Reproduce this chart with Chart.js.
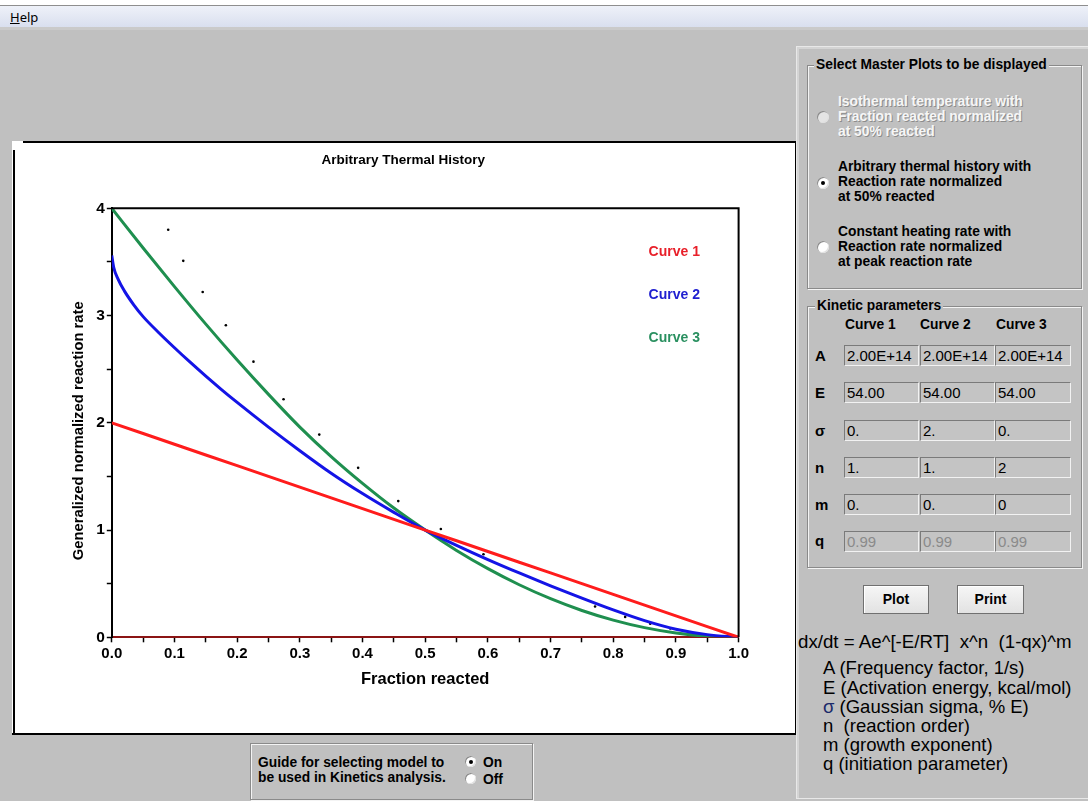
<!DOCTYPE html>
<html><head><meta charset="utf-8">
<script src="https://cdn.jsdelivr.net/npm/chart.js@4.4.1/dist/chart.umd.min.js"></script>
<style>
html,body{margin:0;padding:0;}
body{width:1088px;height:801px;background:#c0c0c0;position:relative;overflow:hidden;font-family:"Liberation Sans",Arial,sans-serif;color:#000;}
.a{position:absolute;}
.t{position:absolute;white-space:pre;font-weight:bold;font-size:13.8px;line-height:15px;}
.grp{position:absolute;border:1px solid #8a8a8a;box-shadow:inset 1px 1px 0 #f4f4f4,1px 1px 0 #f4f4f4;}
.leg{position:absolute;background:#c0c0c0;padding:0 2px;font-weight:bold;font-size:13.8px;line-height:16px;white-space:pre;}
.radio{position:absolute;width:12px;height:12px;border-radius:50%;background:#fff;box-shadow:inset 1px 1px 0 #8a8a8a,inset -1px -1px 0 #e0e0e0;}
.radio.on::after{content:'';position:absolute;left:4px;top:4px;width:4px;height:4px;border-radius:50%;background:#000;}
.radio.dis{background:#e4e4e4;}
.dis-t{color:#f6f6f6;text-shadow:1px 1px 0 #8c8c8c;}
.box{position:absolute;height:19px;border:1px solid;border-color:#7a7a7a #f2f2f2 #f2f2f2 #7a7a7a;background:#c4c4c4;font-size:15px;line-height:19px;padding-left:2px;box-sizing:content-box;white-space:pre;}
.btn{position:absolute;height:27px;border:1px solid #707070;background:linear-gradient(#f6f6f6,#e2e2e2);box-shadow:inset 1px 1px 0 #fff;font-weight:bold;font-size:14px;line-height:27px;text-align:center;}
</style></head>
<body>
<!-- menu bar -->
<div class="a" style="left:0;top:0;width:1088px;height:5px;background:#fff;"></div>
<div class="a" style="left:0;top:5px;width:1088px;height:1px;background:#8e8e8e;"></div>
<div class="a" style="left:0;top:6px;width:1088px;height:21px;background:linear-gradient(#eef1f9,#d9dfee);"></div>
<div class="a" style="left:0;top:27px;width:1088px;height:3px;background:#cacaca;"></div>
<div class="a" style="left:10px;top:8px;font-size:13px;line-height:18px;font-family:'Noto Sans','Liberation Sans',sans-serif;"><u>H</u>elp</div>

<!-- chart frame -->
<div class="a" style="left:12px;top:141px;width:784px;height:594px;background:#fff;"></div>
<div class="a" style="left:23px;top:141px;width:773px;height:2px;background:#000;"></div>
<div class="a" style="left:13px;top:150px;width:2px;height:585px;background:#000;"></div>
<div class="a" style="left:12px;top:733px;width:784px;height:2px;background:#000;"></div>
<div class="a" style="left:795px;top:141px;width:1px;height:594px;background:#000;"></div>
<canvas id="c" width="783" height="592" class="a" style="left:13px;top:142px;width:783px;height:592px;"></canvas>

<!-- guide box -->
<div class="grp" style="left:250px;top:743px;width:281px;height:55px;"></div>
<div class="t" style="left:258px;top:754.5px;">Guide for selecting model to
be used in Kinetics analysis.</div>
<div class="radio on" style="left:465px;top:756px;width:11px;height:11px;"></div>
<div class="radio" style="left:465px;top:773px;width:11px;height:11px;"></div>
<div class="t" style="left:483px;top:754.5px;">On</div>
<div class="t" style="left:483px;top:771.5px;">Off</div>

<!-- right panel -->
<div class="a" style="left:796px;top:46px;width:291px;height:751px;border-left:1px solid #e8e8e8;border-top:1px solid #e8e8e8;border-bottom:1px solid #e8e8e8;box-shadow:inset 2px 2px 0 #d4d4d4;"></div>

<div class="grp" style="left:807px;top:65px;width:273px;height:222px;"></div>
<div class="leg" style="left:814px;top:57px;">Select Master Plots to be displayed</div>

<div class="radio dis" style="left:817px;top:110.5px;"></div>
<div class="t dis-t" style="left:838px;top:94.2px;">Isothermal temperature with
Fraction reacted normalized
at 50% reacted</div>
<div class="radio on" style="left:817px;top:176.5px;"></div>
<div class="t" style="left:838px;top:159.2px;">Arbitrary thermal history with
Reaction rate normalized
at 50% reacted</div>
<div class="radio" style="left:817px;top:241px;"></div>
<div class="t" style="left:838px;top:224.2px;">Constant heating rate with
Reaction rate normalized
at peak reaction rate</div>

<div class="grp" style="left:807px;top:306px;width:273px;height:260px;"></div>
<div class="leg" style="left:815px;top:298px;">Kinetic parameters</div>

<div class="t" style="left:845px;top:316.5px;">Curve 1</div>
<div class="t" style="left:920px;top:316.5px;">Curve 2</div>
<div class="t" style="left:996px;top:316.5px;">Curve 3</div>

<div class="t" style="left:815px;top:347.5px;font-size:15px;">A</div>
<div class="t" style="left:815px;top:384.5px;font-size:15px;">E</div>
<div class="t" style="left:815px;top:422.5px;font-size:15px;">σ</div>
<div class="t" style="left:815px;top:459.5px;font-size:15px;">n</div>
<div class="t" style="left:815px;top:496.5px;font-size:15px;">m</div>
<div class="t" style="left:815px;top:533px;font-size:15px;">q</div>

<div class="box" style="left:844px;top:345px;width:71px;">2.00E+14</div>
<div class="box" style="left:920px;top:345px;width:71px;">2.00E+14</div>
<div class="box" style="left:995px;top:345px;width:72px;">2.00E+14</div>
<div class="box" style="left:844px;top:382px;width:71px;">54.00</div>
<div class="box" style="left:920px;top:382px;width:71px;">54.00</div>
<div class="box" style="left:995px;top:382px;width:72px;">54.00</div>
<div class="box" style="left:844px;top:420px;width:71px;">0.</div>
<div class="box" style="left:920px;top:420px;width:71px;">2.</div>
<div class="box" style="left:995px;top:420px;width:72px;">0.</div>
<div class="box" style="left:844px;top:457px;width:71px;">1.</div>
<div class="box" style="left:920px;top:457px;width:71px;">1.</div>
<div class="box" style="left:995px;top:457px;width:72px;">2</div>
<div class="box" style="left:844px;top:494px;width:71px;">0.</div>
<div class="box" style="left:920px;top:494px;width:71px;">0.</div>
<div class="box" style="left:995px;top:494px;width:72px;">0</div>
<div class="box" style="left:844px;top:530.5px;width:71px;color:#8a8a8a;">0.99</div>
<div class="box" style="left:920px;top:530.5px;width:71px;color:#8a8a8a;">0.99</div>
<div class="box" style="left:995px;top:530.5px;width:72px;color:#8a8a8a;">0.99</div>

<div class="btn" style="left:863px;top:585px;width:64px;">Plot</div>
<div class="btn" style="left:957px;top:585px;width:65px;">Print</div>

<div class="a" style="left:798px;top:630.7px;font-size:18.7px;line-height:22px;white-space:pre;">dx/dt = Ae^[-E/RT]  x^n  (1-qx)^m</div>
<div class="a" style="left:823px;top:658.4px;font-size:18.5px;line-height:19.2px;white-space:pre;">A (Frequency factor, 1/s)
E (Activation energy, kcal/mol)
<span style="color:#1a2a6a">σ</span> (Gaussian sigma, % E)
n  (reaction order)
m (growth exponent)
q (initiation parameter)</div>

<script>
// ---- data ----
const seriesNames = ['Curve 1', 'Curve 2', 'Curve 3'];
const yAxisTitle = 'Generalized normalized reaction rate';
const curveX  = [0,0.05,0.10,0.15,0.20,0.25,0.30,0.35,0.40,0.45,0.50,0.55,0.60,0.65,0.70,0.75,0.80,0.85,0.90,0.95,1.00];
const curve1Y = [2.00,1.90,1.80,1.70,1.60,1.50,1.40,1.30,1.20,1.10,1.00,0.90,0.80,0.70,0.60,0.50,0.40,0.30,0.20,0.10,0.00];
const curve3Y = [4.00,3.63,3.27,2.92,2.585,2.265,1.96,1.685,1.435,1.205,1.00,0.81,0.64,0.49,0.36,0.25,0.16,0.09,0.04,0.01,0.00];
const curve2X = [0,0.003,0.01,0.02,0.035,0.05,0.075,0.10,0.125,0.15,0.175,0.20,0.25,0.30,0.35,0.40,0.45,0.50,0.55,0.60,0.65,0.70,0.75,0.80,0.85,0.90,0.95,1.00];
const curve2Y = [3.56,3.45,3.34,3.23,3.10,2.99,2.84,2.70,2.565,2.435,2.31,2.19,1.96,1.74,1.53,1.34,1.165,1.00,0.858,0.725,0.60,0.48,0.365,0.255,0.155,0.075,0.025,0.00];
const guideX  = [0.090,0.114,0.145,0.182,0.226,0.274,0.331,0.393,0.457,0.525,0.593,0.771,0.819,0.859,0.891];
const guideY  = [3.80,3.51,3.22,2.91,2.57,2.22,1.89,1.58,1.27,1.01,0.775,0.287,0.19,0.126,0.082];
const xTickLabels = ['0.0','0.1','0.2','0.3','0.4','0.5','0.6','0.7','0.8','0.9','1.0'];
const yTickLabels = ['0','1','2','3','4'];

const lineColors  = ['#ff1c1c','#1414e6','#1f8f4f'];
const labelColors = ['#e8202a','#2020d0','#2a9060'];

const pts = (xs, ys) => xs.map((x, i) => ({x, y: ys[i]}));

const curveLabels = {
  id: 'curveLabels',
  afterDatasetsDraw(chart) {
    const {ctx, chartArea: a} = chart;
    ctx.save();
    ctx.font = 'bold 14px "Liberation Sans", Arial, sans-serif';
    ctx.textBaseline = 'middle';
    ctx.textAlign = 'left';
    seriesNames.forEach((n, i) => {
      ctx.fillStyle = labelColors[i];
      ctx.fillText(n, a.right - 90, a.top + 44 + i * 43);
    });
    ctx.restore();
  }
};
const frame = {
  id: 'frame',
  afterDraw(chart) {
    const {ctx, chartArea: a} = chart;
    ctx.save();
    ctx.strokeStyle = '#000';
    ctx.lineWidth = 2;
    ctx.beginPath();
    ctx.moveTo(a.left, a.top);
    ctx.lineTo(a.right, a.top);
    ctx.lineTo(a.right, a.bottom);
    ctx.stroke();
    // y axis title, placed slightly below the axis middle as in the original
    ctx.translate(66, (a.top + a.bottom) / 2 + 8);
    ctx.rotate(-Math.PI / 2);
    ctx.font = 'bold 14.8px "Liberation Sans", Arial, sans-serif';
    ctx.fillStyle = '#000';
    ctx.textAlign = 'center';
    ctx.textBaseline = 'middle';
    ctx.fillText(yAxisTitle, 0, 0);
    ctx.restore();
  }
};

const xTickFont = {family: '"Liberation Sans", Arial, sans-serif', size: 15, weight: 'bold'};
const yTickFont = {family: '"Liberation Sans", Arial, sans-serif', size: 15.5, weight: 'bold'};

new Chart(document.getElementById('c'), {
  type: 'line',
  data: {
    datasets: [
      {label: seriesNames[0], data: pts(curveX, curve1Y), borderColor: lineColors[0], borderWidth: 3, pointRadius: 0, tension: 0},
      {label: seriesNames[1], data: pts(curve2X, curve2Y), borderColor: lineColors[1], borderWidth: 3, pointRadius: 0, cubicInterpolationMode: 'monotone'},
      {label: seriesNames[2], data: pts(curveX, curve3Y), borderColor: lineColors[2], borderWidth: 3, pointRadius: 0, cubicInterpolationMode: 'monotone'},
      {label: 'guide', type: 'scatter', data: pts(guideX, guideY), backgroundColor: '#000', borderColor: '#000', pointRadius: 1.3, borderWidth: 0, showLine: false}
    ]
  },
  options: {
    responsive: false,
    animation: false,
    events: [],
    layout: {padding: {left: 55, right: 57.4, top: 0, bottom: 0}},
    plugins: {
      legend: {display: false},
      tooltip: {enabled: false},
      title: {display: true, text: 'Arbitrary Thermal History', color: '#000',
        font: {family: '"Liberation Sans", Arial, sans-serif', size: 13.5, weight: 'bold'},
        padding: {top: 10, bottom: 40.1}}
    },
    scales: {
      x: {
        type: 'linear', min: 0, max: 1,
        afterFit(s) { s.height = 96.7; },
        ticks: {stepSize: 0.05, autoSkip: false, maxRotation: 0, color: '#000', font: xTickFont, padding: 3,
          callback: v => { const k = Math.round(v * 100); return k % 10 === 0 ? xTickLabels[k / 10] : ''; }},
        grid: {drawOnChartArea: false, drawTicks: true, tickLength: 5, tickColor: '#000', tickWidth: 1.5},
        border: {display: true, color: '#8b1414', width: 2},
        title: {display: true, text: 'Fraction reacted', color: '#000',
          font: {family: '"Liberation Sans", Arial, sans-serif', size: 16.5, weight: 'bold'},
          padding: {top: 0, bottom: 45.1}}
      },
      y: {
        min: 0, max: 4,
        afterFit(s) { s.width = 43.8; },
        ticks: {stepSize: 0.5, autoSkip: false, color: '#000', font: yTickFont, padding: 2,
          callback: v => { const k = Math.round(v * 2); return k % 2 === 0 ? yTickLabels[k / 2] : ''; }},
        grid: {drawOnChartArea: false, drawTicks: true, tickLength: 5, tickColor: '#000', tickWidth: 1.5},
        border: {display: true, color: '#000', width: 2},
        title: {display: false}
      }
    }
  },
  plugins: [curveLabels, frame]
});
</script>
</body></html>
